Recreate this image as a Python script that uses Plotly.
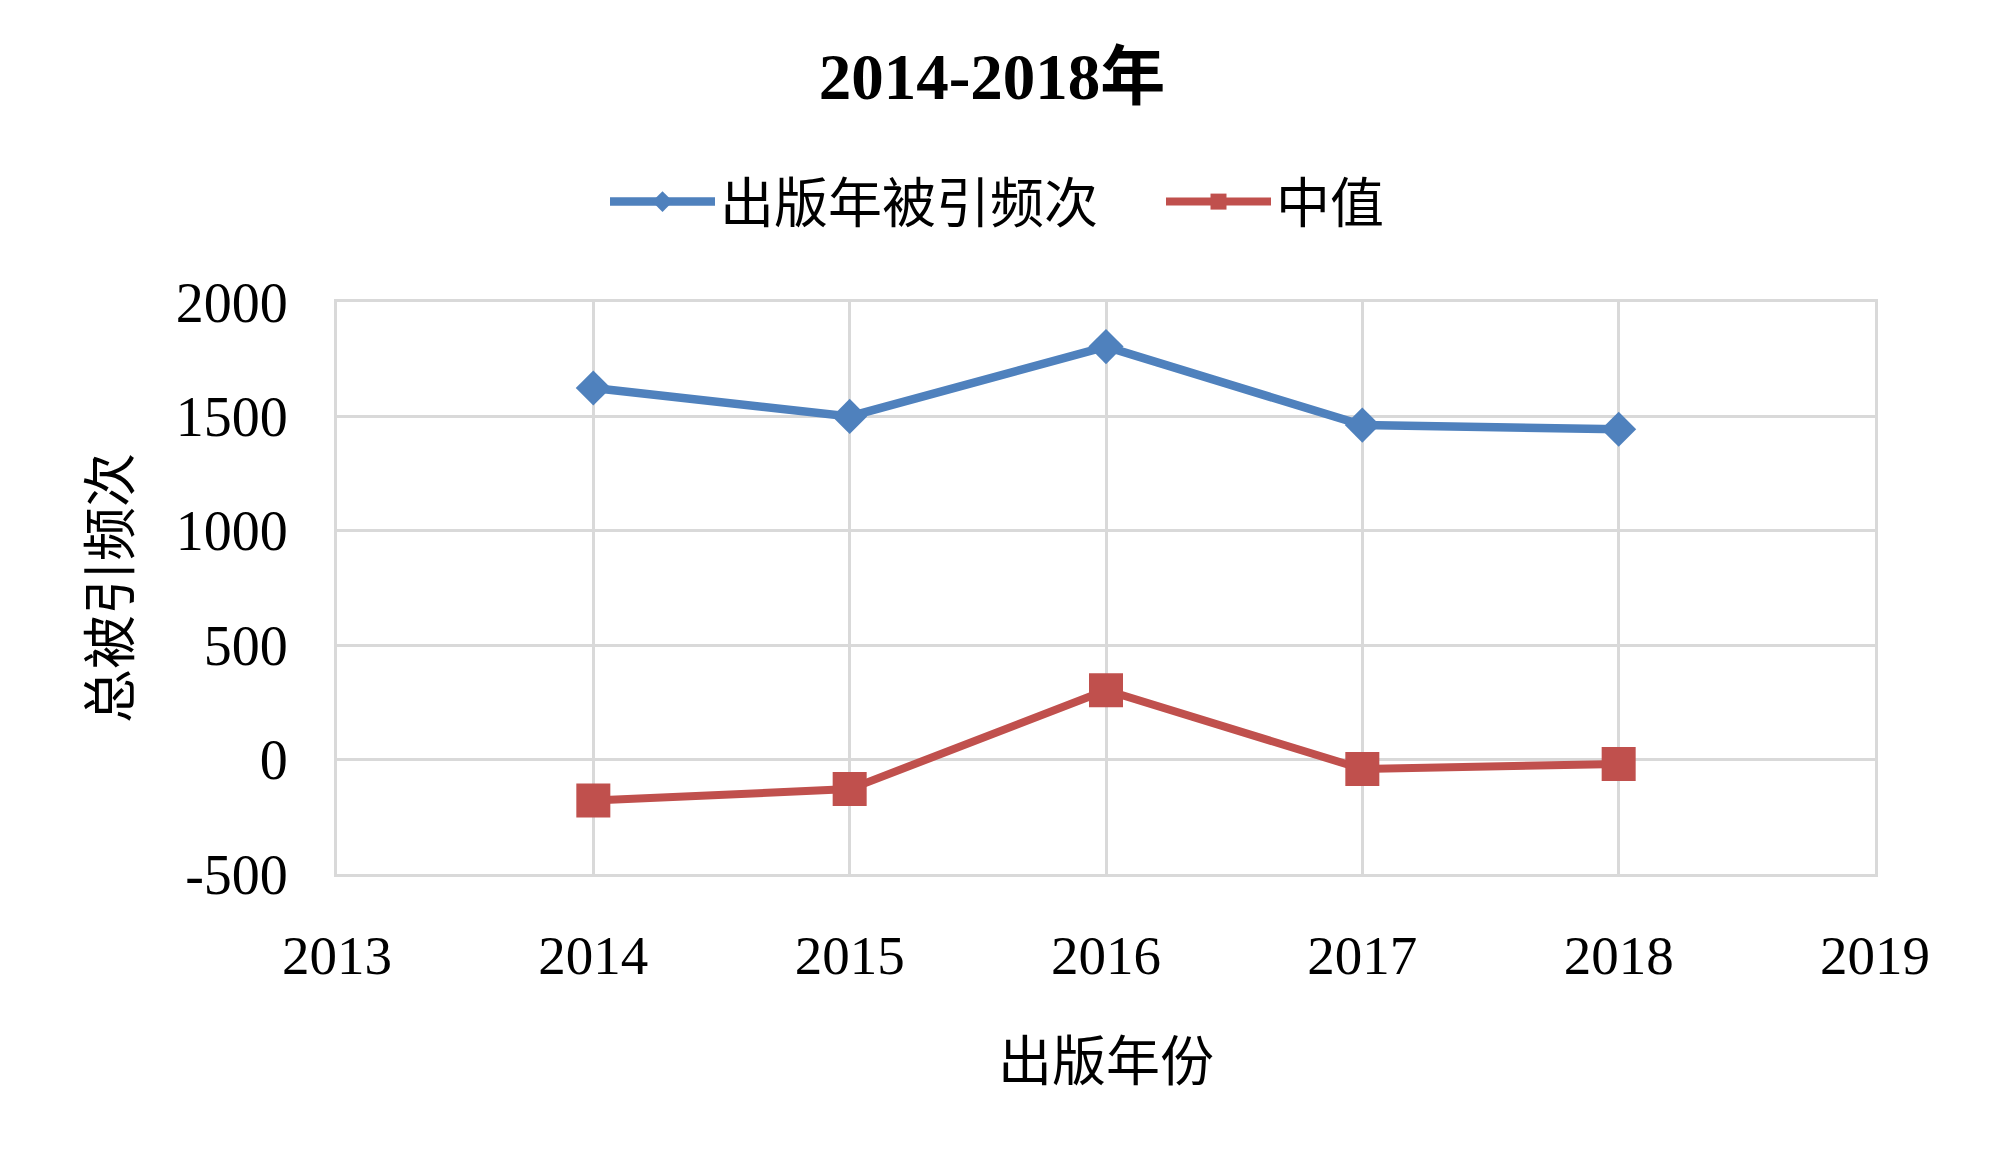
import plotly.graph_objects as go

years = [2014, 2015, 2016, 2017, 2018]
citations = [1624, 1500, 1805, 1462, 1444]
median_vals = [-179, -129, 303, -41, -19]

series_names = ["出版年被引频次", "中值"]
title_text = "2014-2018年"
x_title = "出版年份"
y_title = "总被引频次"
x_ticks = [2013, 2014, 2015, 2016, 2017, 2018, 2019]
y_ticks = [-500, 0, 500, 1000, 1500, 2000]

FONT = "Liberation Serif, 'Noto Sans CJK SC', serif"
BLUE = "#4F81BD"
RED = "#C0504D"
GRID = "#D9D9D9"

fig = go.Figure()
fig.add_trace(go.Scatter(
    x=years, y=citations, name=series_names[0], mode="lines+markers",
    line=dict(color=BLUE, width=8.5),
    marker=dict(symbol="diamond", size=27, color=BLUE),
))
fig.add_trace(go.Scatter(
    x=years, y=median_vals, name=series_names[1], mode="lines+markers",
    line=dict(color=RED, width=8),
    marker=dict(symbol="square", size=34, color=RED),
))

fig.update_layout(
    width=2000, height=1171,
    margin=dict(l=329, r=133, t=294, b=305),
    paper_bgcolor="white", plot_bgcolor="white",
    font=dict(family=FONT, size=54, color="black"),
    title=dict(text="<b>" + title_text + "</b>", x=0.492, xref="container", xanchor="center",
               y=1 - 68 / 1171, yref="container", yanchor="middle",
               font=dict(family=FONT, size=65, color="black")),
    legend=dict(orientation="h", xref="container", yref="container",
                x=0.5765, xanchor="center", y=1 - 194 / 1171, yanchor="middle",
                font=dict(family=FONT, size=54, color="black"),
                itemwidth=105, entrywidth=436, entrywidthmode="pixels",
                bgcolor="rgba(0,0,0,0)"),
    showlegend=True,
)
fig.update_xaxes(
    range=[2013, 2019], tickvals=x_ticks, ticktext=[str(t) for t in x_ticks],
    showgrid=True, gridcolor=GRID, gridwidth=3,
    showline=True, mirror=True, linecolor=GRID, linewidth=3,
    zeroline=False, ticks="", ticklabelstandoff=31,
    tickfont=dict(family=FONT, size=55, color="black"),
    title=dict(text=x_title, standoff=59, font=dict(family=FONT, size=54, color="black")),
)
fig.update_yaxes(
    range=[-500, 2000], tickvals=y_ticks, ticktext=[str(t) for t in y_ticks],
    showgrid=True, gridcolor=GRID, gridwidth=3,
    showline=True, mirror=True, linecolor=GRID, linewidth=3,
    zeroline=False, ticks="", ticklabelstandoff=35,
    tickfont=dict(family=FONT, size=56, color="black"),
    title=dict(text=y_title, standoff=28, font=dict(family=FONT, size=54, color="black")),
)

fig.write_html("out.html")
